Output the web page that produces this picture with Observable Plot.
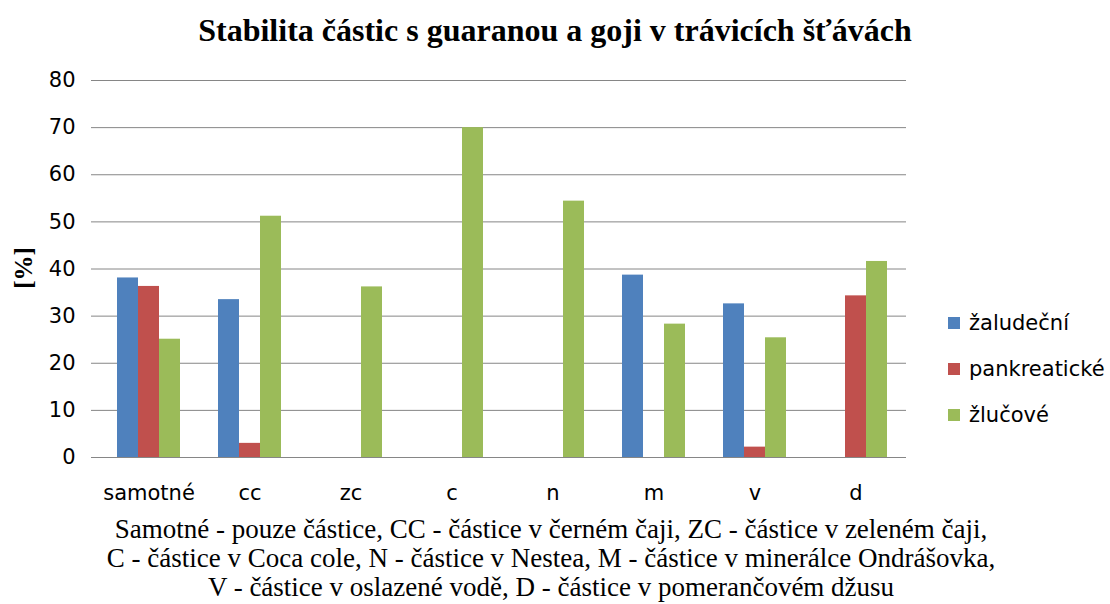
<!DOCTYPE html>
<html><head><meta charset="utf-8">
<script src="https://cdn.jsdelivr.net/npm/d3@7"></script>
<script src="https://cdn.jsdelivr.net/npm/@observablehq/plot@0.6"></script>
<style>
body{margin:0;background:#fff;}
#wrap{position:relative;width:1110px;height:604px;overflow:hidden;background:#fff;}
#title{position:absolute;top:12px;left:0;width:1110px;text-align:center;font:bold 32px "Liberation Serif";color:#000;}
#chart{position:absolute;top:60px;left:0;}
#ylab{position:absolute;left:24px;top:268px;transform:translate(-50%,-50%) rotate(-90deg);font:bold 25px "Liberation Serif";white-space:nowrap;}
#legend{position:absolute;left:948px;top:300px;font:21px "DejaVu Sans";}
.li{height:46px;display:flex;align-items:center;margin-top:0;}
.sw{width:12px;height:12px;margin-right:9px;}
#caption{position:absolute;top:515px;left:-4px;width:1110px;text-align:center;font:27px/29px "Liberation Serif";color:#000;}
</style></head>
<body><div id="wrap">
<div id="title"></div>
<div id="chart"></div>
<div id="ylab"></div>
<div id="legend"></div>
<div id="caption"></div>
</div>
<script>
const titleText = "Stabilita částic s guaranou a goji v trávicích šťávách";
const yLabel = "[%]";
const categories = ["samotné", "cc", "zc", "c", "n", "m", "v", "d"];
const seriesNames = ["žaludeční", "pankreatické", "žlučové"];
const zaludecni = [38.1, 33.5, null, null, null, 38.7, 32.6, null];
const pankreaticke = [36.3, 3.0, null, null, null, null, 2.2, 34.3];
const zlucove = [25.1, 51.2, 36.2, 70.0, 54.4, 28.3, 25.4, 41.6];
const colors = ["#4F81BD", "#C0504D", "#9BBB59"];
const yTicks = [0, 10, 20, 30, 40, 50, 60, 70, 80];
const captionLines = [
  "Samotné - pouze částice, CC - částice v černém čaji, ZC - částice v zeleném čaji,",
  "C - částice v Coca cole, N - částice v Nestea, M - částice v minerálce Ondrášovka,",
  "V - částice v oslazené vodě, D - částice v pomerančovém džusu"
];

const seriesValues = [zaludecni, pankreaticke, zlucove];
const data = categories.flatMap((c, i) => seriesNames.map((s, j) => ({category: c, series: s, value: seriesValues[j][i]})))
  .filter(d => d.value != null);

const gray = "#868686";
const frameMark = Plot.text(categories, {
  fx: d => d,
  text: () => "",
  render: (I, scales) => {
    const i = I[0];
    const [xa, xb] = scales.x.range();
    const y0 = scales.y(0), yTop = scales.y(80);
    const g = d3.create("svg:g").attr("stroke", gray).attr("stroke-width", 1).attr("fill", "none");
    const line = (x1, y1, x2, y2) => g.append("line").attr("x1", x1).attr("y1", y1).attr("x2", x2).attr("y2", y2);
    const xl = Math.round(xa) + 0.5, xr = Math.round(xb) + 0.5, yb = Math.round(y0) + 0.5;
    line(xl, yb, xl, yb + 8);
    if (i === categories.length - 1) line(xr, yb, xr, yb + 8);
    if (i === 0) line(xl, Math.round(yTop) + 0.5, xl, yb);
    return g.node();
  }
});

const chart = Plot.plot({
  width: 1110, height: 460,
  marginTop: 20, marginBottom: 63, marginLeft: 96, marginRight: 203,
  style: {fontFamily: "DejaVu Sans", fontSize: "21px", color: "#000", background: "white", overflow: "visible"},
  fx: {domain: categories, padding: 0, label: null},
  x: {domain: seriesNames, paddingInner: 0, paddingOuter: 0.8, axis: null},
  y: {domain: [0, 80], label: null},
  color: {domain: seriesNames, range: colors},
  marks: [
    Plot.gridY(yTicks, {stroke: gray, strokeOpacity: 1, strokeWidth: 1}),
    Plot.axisY(yTicks, {tickSize: 7, tickPadding: 16, stroke: gray, fill: "#000", fontSize: 21, label: null, tickFormat: d => d}),
    Plot.barY(data, {fx: "category", x: "series", y: "value", fill: "series"}),
    Plot.axisFx({anchor: "bottom", tickSize: 0, tickPadding: 28, fontSize: 21, fill: "#000", label: null}),
    frameMark
  ]
});
document.getElementById("chart").appendChild(chart);
document.getElementById("title").textContent = titleText;
document.getElementById("ylab").textContent = yLabel;
const leg = d3.select("#legend");
seriesNames.forEach((s, j) => {
  const row = leg.append("div").attr("class", "li");
  row.append("div").attr("class", "sw").style("background", colors[j]);
  row.append("span").text(s);
});
const cap = d3.select("#caption");
captionLines.forEach(t => cap.append("div").text(t));
</script>
</body></html>
